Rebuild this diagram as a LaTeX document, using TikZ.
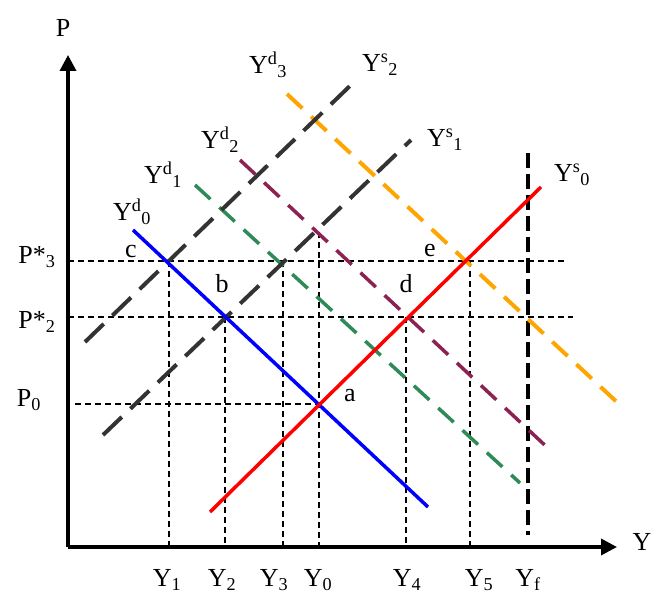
\documentclass[tikz,border=0pt]{standalone}
\usepackage{fontspec}
\setmainfont{Liberation Serif}
\usetikzlibrary{arrows.meta}
\definecolor{supgray}{RGB}{51,51,51}
\definecolor{dgreen}{RGB}{46,139,87}
\definecolor{dpurple}{RGB}{139,34,82}
\definecolor{dorange}{RGB}{255,165,0}

\begin{document}
\begin{tikzpicture}[x=1pt,y=-1pt,
  every node/.style={font=\fontsize{26}{30}\selectfont,inner sep=0pt},
  axis/.style={line width=3.5pt,-{Triangle[length=16pt,width=16pt]}},
  guide/.style={line width=1.2pt,dash pattern=on 6pt off 4pt},
  supply/.style={line width=4pt,supgray,dash pattern=on 26pt off 12pt},
  demand/.style={line width=3.5pt,dash pattern=on 21pt off 12pt}]
\useasboundingbox (0,0) rectangle (651,596);

% points
\coordinate (o) at (68,547);
\coordinate (c) at (169,261);
\coordinate (b) at (225,317);
\coordinate (a) at (319,404);
\coordinate (d) at (406,317);
\coordinate (e) at (470,261);
\coordinate (g3) at (283,261);
\coordinate (g0) at (319,232);
\coordinate (p3e) at (565,261);
\coordinate (p2e) at (573,317);
\coordinate (p0s) at (75,404);
\coordinate (yft) at (528,153);
\coordinate (yfb) at (528,535);

% guides
\draw[guide] (o |- c) -- (p3e);
\draw[guide] (o |- b) -- (p2e);
\draw[guide] (p0s) -- (a);
\foreach \pt in {c,b,g3,g0,d,e}
  \draw[guide] (\pt) -- (\pt |- o);
\draw[line width=4pt,dash pattern=on 15pt off 6pt] (yft) -- (yfb);

% curves
\coordinate (ys2s) at (85,342);  \coordinate (ys2e) at (354,82);
\coordinate (ys1s) at (103,435); \coordinate (ys1e) at (411,140);
\coordinate (ys0s) at (210,512); \coordinate (ys0e) at (541,187);
\coordinate (yd0s) at (133,230); \coordinate (yd0e) at (428,507);
\coordinate (yd1s) at (195,185); \coordinate (yd1e) at (520,483);
\coordinate (yd2s) at (240,160); \coordinate (yd2e) at (550,450);
\coordinate (yd3s) at (287,94);  \coordinate (yd3e) at (620,405);
\draw[demand,dgreen] (yd1s) -- (yd1e);
\draw[demand,dpurple] (yd2s) -- (yd2e);
\draw[demand,dorange,line width=4pt] (yd3s) -- (yd3e);
\draw[supply] (ys2s) -- (ys2e);
\draw[supply] (ys1s) -- (ys1e);
\draw[line width=3.5pt,blue] (yd0s) -- (yd0e);
\draw[line width=3.5pt,red] (ys0s) -- (ys0e);

% axes
\draw[axis] (o) -- (68,55) coordinate (ptip);
\draw[axis] (o) -- (617,547) coordinate (ytip);

% labels
\node (lp) at (63,28) {P};
\node (ly) at (642,542) {Y};
\node (lp3) at (37,257) {P*\textsubscript{3}};
\node (lp2) at (37,322) {P*\textsubscript{2}};
\node (lp0) at (29,400) {P\textsubscript{0}};
\node (lyd0) at (132,212) {Y\textsuperscript{d}\textsubscript{0}};
\node (lyd1) at (163,175) {Y\textsuperscript{d}\textsubscript{1}};
\node (lyd2) at (220,140) {Y\textsuperscript{d}\textsubscript{2}};
\node (lyd3) at (268,65) {Y\textsuperscript{d}\textsubscript{3}};
\node (lys2) at (380,65) {Y\textsuperscript{s}\textsubscript{2}};
\node (lys1) at (445,140) {Y\textsuperscript{s}\textsubscript{1}};
\node (lys0) at (572,175) {Y\textsuperscript{s}\textsubscript{0}};
\node (lc) at (131,252) {c};
\node (lb) at (222,284) {b};
\node (ld) at (406,284) {d};
\node (le) at (430,251) {e};
\node (la) at (350,396) {a};
\node (ly1) at (167,580) {Y\textsubscript{1}};
\node (ly2) at (222,580) {Y\textsubscript{2}};
\node (ly3) at (274,580) {Y\textsubscript{3}};
\node (ly0) at (318,580) {Y\textsubscript{0}};
\node (ly4) at (407,580) {Y\textsubscript{4}};
\node (ly5) at (479,580) {Y\textsubscript{5}};
\node (lyf) at (528,580) {Y\textsubscript{f}};
\end{tikzpicture}
\end{document}
